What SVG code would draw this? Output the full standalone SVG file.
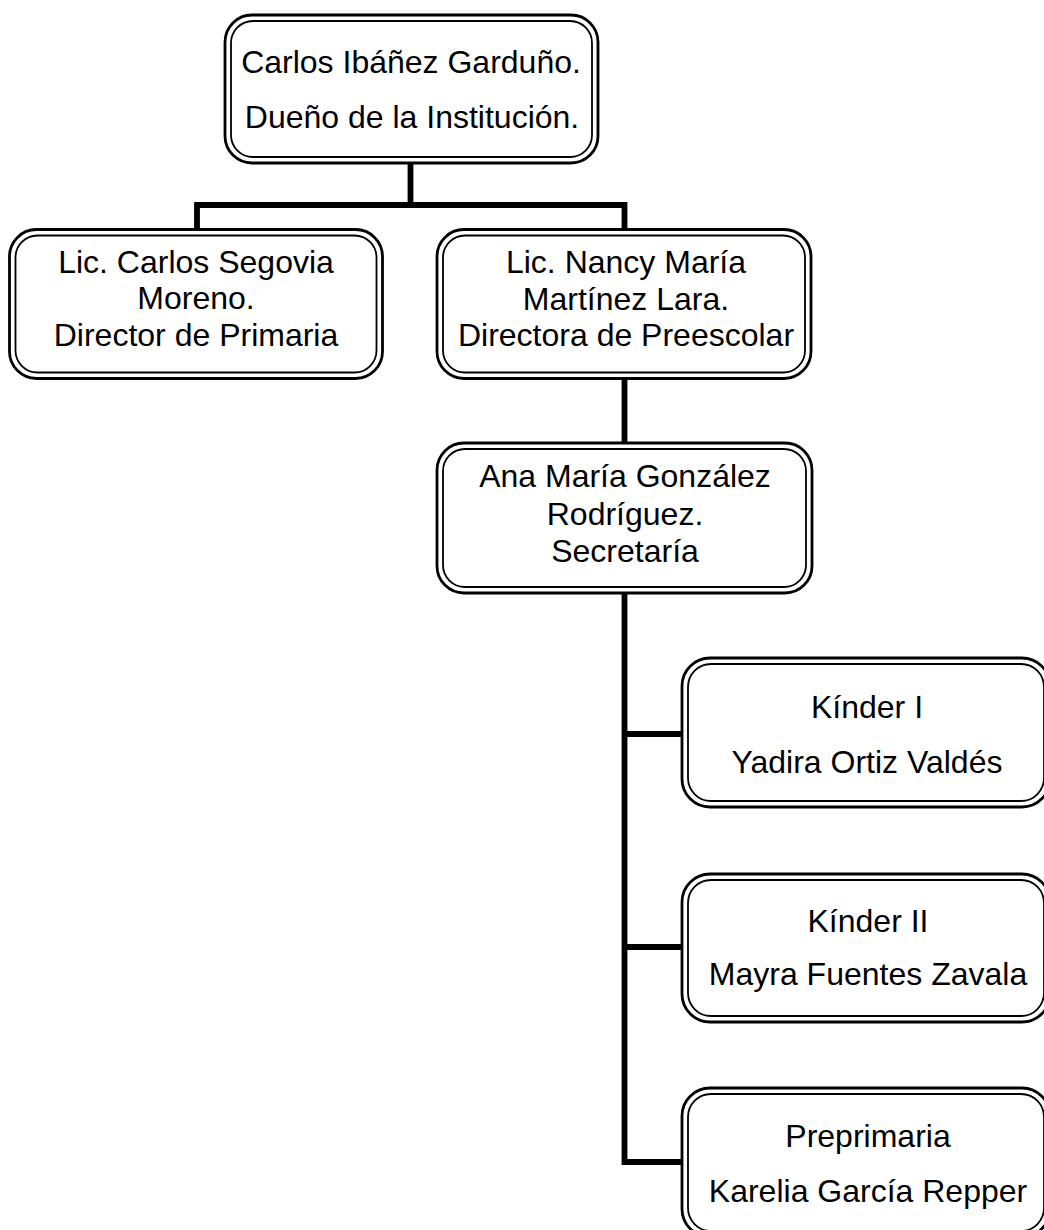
<svg xmlns="http://www.w3.org/2000/svg" width="1044" height="1230" viewBox="0 0 1044 1230">
<style>
.o{fill:#fff;stroke:#000;stroke-width:2.8}
.i{fill:none;stroke:#000;stroke-width:1.8}
.t{font-family:"Liberation Sans",Arial,sans-serif;font-size:32px;fill:#000;text-anchor:middle}
.c{fill:none;stroke:#000;stroke-width:5.8;stroke-linejoin:miter;stroke-linecap:butt}
</style>
<rect width="1044" height="1230" fill="#fff"/>
<g id="connectors">
<path class="c" d="M410.5 163V205"/>
<path class="c" d="M197 231V205H624.5V231"/>
<path class="c" d="M624.5 378V445"/>
<path class="c" d="M624.5 592V1162H684"/>
<path class="c" d="M624.5 734H684"/>
<path class="c" d="M624.5 947H684"/>
</g>
<g id="n1">
<rect class="o" x="225" y="15" width="373" height="148" rx="27"/>
<rect class="i" x="231" y="21" width="361" height="136" rx="22"/>
<text class="t" x="411" y="73">Carlos Ibáñez Garduño.</text>
<text class="t" x="412" y="128">Dueño de la Institución.</text>
</g>
<g id="n2">
<rect class="o" x="9.5" y="229.5" width="373" height="149" rx="27"/>
<rect class="i" x="15.5" y="235.5" width="361" height="137" rx="22"/>
<text class="t" x="196" y="273">Lic. Carlos Segovia</text>
<text class="t" x="196" y="309">Moreno.</text>
<text class="t" x="196" y="346">Director de Primaria</text>
</g>
<g id="n3">
<rect class="o" x="437" y="229.5" width="374" height="149" rx="27"/>
<rect class="i" x="443" y="235.5" width="362" height="137" rx="22"/>
<text class="t" x="626" y="273">Lic. Nancy María</text>
<text class="t" x="626" y="310">Martínez Lara.</text>
<text class="t" x="626" y="346">Directora de Preescolar</text>
</g>
<g id="n4">
<rect class="o" x="437" y="443" width="375" height="150" rx="27"/>
<rect class="i" x="443" y="449" width="363" height="138" rx="22"/>
<text class="t" x="625" y="487">Ana María González</text>
<text class="t" x="625" y="525">Rodríguez.</text>
<text class="t" x="625" y="562">Secretaría</text>
</g>
<g id="n5">
<rect class="o" x="682" y="658" width="368" height="149" rx="28"/>
<rect class="i" x="688" y="664" width="356" height="137" rx="23"/>
<text class="t" x="867" y="718">Kínder I</text>
<text class="t" x="867" y="773">Yadira Ortiz Valdés</text>
</g>
<g id="n6">
<rect class="o" x="682" y="874" width="368" height="148" rx="28"/>
<rect class="i" x="688" y="880" width="356" height="136" rx="23"/>
<text class="t" x="868" y="932">Kínder II</text>
<text class="t" x="868" y="985">Mayra Fuentes Zavala</text>
</g>
<g id="n7">
<rect class="o" x="682" y="1088" width="368" height="149" rx="28"/>
<rect class="i" x="688" y="1094" width="356" height="137" rx="23"/>
<text class="t" x="868" y="1147">Preprimaria</text>
<text class="t" x="868" y="1202">Karelia García Repper</text>
</g>
</svg>
